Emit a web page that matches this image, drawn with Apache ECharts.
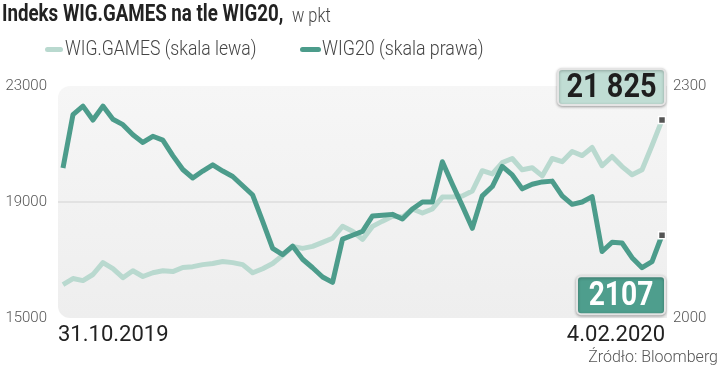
<!DOCTYPE html>
<html>
<head>
<meta charset="utf-8">
<script src="https://cdn.jsdelivr.net/npm/echarts@6/dist/echarts.min.js"></script>
<style>
html,body{margin:0;padding:0;background:#fff;}
#c{width:720px;height:372px;}
</style>
</head>
<body>
<div id="c"></div>
<script>
// Trading days 31.10.2019 - 4.02.2020
const dates = [
 '31.10.2019',
 '4.11.2019','5.11.2019','6.11.2019','7.11.2019','8.11.2019',
 '12.11.2019','13.11.2019','14.11.2019','15.11.2019',
 '18.11.2019','19.11.2019','20.11.2019','21.11.2019','22.11.2019',
 '25.11.2019','26.11.2019','27.11.2019','28.11.2019','29.11.2019',
 '2.12.2019','3.12.2019','4.12.2019','5.12.2019','6.12.2019',
 '9.12.2019','10.12.2019','11.12.2019','12.12.2019','13.12.2019',
 '16.12.2019','17.12.2019','18.12.2019','19.12.2019','20.12.2019',
 '23.12.2019','27.12.2019','30.12.2019',
 '2.01.2020','3.01.2020',
 '7.01.2020','8.01.2020','9.01.2020','10.01.2020',
 '13.01.2020','14.01.2020','15.01.2020','16.01.2020','17.01.2020',
 '20.01.2020','21.01.2020','22.01.2020','23.01.2020','24.01.2020',
 '27.01.2020','28.01.2020','29.01.2020','30.01.2020','31.01.2020',
 '3.02.2020','4.02.2020'
];
const tickLabels = ['31.10.2019', '4.02.2020'];

const wigGames = [
 16150,16360,16290,16500,16910,16700,16390,16630,16430,16560,
 16630,16600,16740,16770,16840,16880,16950,16910,16840,16560,
 16700,16880,17160,17470,17400,17470,17610,17750,18160,17990,
 17710,18160,18340,18510,18480,18760,18620,18760,19170,19170,
 19210,19380,20080,19970,20360,20500,20110,20180,19900,20500,
 20390,20740,20600,20880,20250,20570,20220,19940,20110,20950,
 21825
];
const wig20 = [
 2194,2263,2274,2256,2274,2257,2250,2237,2227,2235,
 2230,2210,2192,2181,2190,2198,2190,2183,2171,2159,
 2125,2090,2082,2093,2076,2065,2053,2046,2102,2107,
 2112,2132,2133,2134,2128,2141,2150,2150,2202,2173,
 2145,2116,2158,2170,2196,2185,2167,2173,2176,2177,
 2158,2147,2150,2157,2086,2098,2097,2078,2065,2073,
 2107
];
const leftTicks = [15000, 19000, 23000];
const rightTicks = [2000, 2300];
const seriesNames = ['WIG.GAMES (skala lewa)', 'WIG20 (skala prawa)'];

const DARK = '#4c9c8b';
const LIGHT = '#b9d9cf';
const FONT = 'Roboto, sans-serif';

function fmtThousands(v){
  const s = String(v);
  return s.length > 4 ? s.slice(0, s.length-3) + ' ' + s.slice(-3) : s;
}

function buildData(arr){
  return arr.map((v, i) => {
    if (i !== arr.length - 1) return v;
    return {
      value: v,
      symbol: 'rect',
      symbolSize: 7,
      itemStyle: {color: '#555', borderColor: '#fff', borderWidth: 1.5}
    };
  });
}

const staticGraphics = [
  {
    type: 'rect', z: -10, silent: true,
    shape: {x: 58, y: 86, width: 609, height: 232, r: [12, 0, 0, 12]},
    style: {fill: new echarts.graphic.LinearGradient(0, 0, 0, 1, [
      {offset: 0, color: '#f6f6f6'}, {offset: 1, color: '#eeeeee'}])}
  },
  // title
  {type: 'text', x: 2, y: 3, scaleX: 0.78, style: {text: 'Indeks WIG.GAMES na tle WIG20,', font: 'bold 24px ' + FONT, fill: '#222', textVerticalAlign: 'top'}},
  {type: 'text', x: 292, y: 6, scaleX: 0.78, style: {text: 'w pkt', font: '300 21px ' + FONT, fill: '#444', textVerticalAlign: 'top'}},
  // legend
  {type: 'rect', shape: {x: 45, y: 47, width: 18, height: 5, r: 2.5}, style: {fill: LIGHT}},
  {type: 'text', x: 65, y: 50, scaleX: 0.88, style: {text: seriesNames[0], font: '300 20px ' + FONT, fill: '#444', textVerticalAlign: 'middle'}},
  {type: 'rect', shape: {x: 300, y: 47, width: 21, height: 5, r: 2.5}, style: {fill: DARK}},
  {type: 'text', x: 322, y: 50, scaleX: 0.89, style: {text: seriesNames[1], font: '300 20px ' + FONT, fill: '#444', textVerticalAlign: 'middle'}},
  // source
  {type: 'text', x: 718, y: 358, style: {text: 'Źródło: Bloomberg', font: '300 16px ' + FONT, fill: '#555', textAlign: 'right', textVerticalAlign: 'middle'}}
];

const chart = echarts.init(document.getElementById('c'), null, {renderer: 'canvas'});
chart.setOption({
  animation: false,
  graphic: staticGraphics,
  grid: {left: 58, right: 53, top: 86, bottom: 54},
  xAxis: {
    type: 'category',
    data: dates,
    boundaryGap: true,
    axisLine: {show: false},
    axisTick: {show: false},
    axisLabel: {
      interval: (i) => i === 0 || i === dates.length - 1,
      formatter: (v, i) => (i === 0 ? '{a|' + tickLabels[0] + '}' : '{b|' + tickLabels[1] + '}'),
      alignMinLabel: 'left',
      alignMaxLabel: 'right',
      margin: 6,
      fontFamily: FONT,
      fontSize: 22,
      color: '#222',
      rich: {
        a: {fontFamily: FONT, fontSize: 22, color: '#222', padding: [0, 0, 0, -5]},
        b: {fontFamily: FONT, fontSize: 22, color: '#222', padding: [0, -3, 0, 0]}
      }
    }
  },
  yAxis: [
    {
      type: 'value', min: leftTicks[0], max: leftTicks[2], interval: 4000,
      position: 'left',
      axisLine: {show: false}, axisTick: {show: false},
      axisLabel: {margin: 11, fontFamily: FONT, fontWeight: 300, fontSize: 15, color: '#555',
        formatter: (v) => String(v)},
      splitLine: {show: true, lineStyle: {color: ['transparent', '#dcdcdc', 'transparent'], width: 1.5}}
    },
    {
      type: 'value', min: rightTicks[0], max: rightTicks[1], interval: 150,
      position: 'right',
      axisLine: {show: false}, axisTick: {show: false},
      splitLine: {show: false},
      axisLabel: {
        margin: 6, fontFamily: FONT, fontWeight: 300, fontSize: 15, color: '#555',
        formatter: (v) => (rightTicks.indexOf(v) >= 0 ? String(v) : '')
      }
    }
  ],
  series: [
    {
      name: seriesNames[0],
      type: 'line', yAxisIndex: 0, z: 2,
      showSymbol: true, showAllSymbol: true, symbolSize: 0,
      color: LIGHT,
      lineStyle: {color: LIGHT, width: 5, join: 'round'},
      data: buildData(wigGames)
    },
    {
      name: seriesNames[1],
      type: 'line', yAxisIndex: 1, z: 3,
      showSymbol: true, showAllSymbol: true, symbolSize: 0,
      color: DARK,
      lineStyle: {color: DARK, width: 5, join: 'round'},
      data: buildData(wig20)
    }
  ]
});

// value boxes anchored on the last data points (positions from the chart's own scales)
const last = dates.length - 1;
const p1 = chart.convertToPixel({seriesIndex: 0}, [last, wigGames[last]]);
const p2 = chart.convertToPixel({seriesIndex: 1}, [last, wig20[last]]);

function valueBox(p, rect, text, fill, color, sx){
  return {
    type: 'group', x: p[0], y: p[1], z: 20,
    children: [
      {type: 'rect', shape: {x: rect[0], y: rect[1], width: rect[2], height: rect[3], r: 4},
       style: {fill: fill, stroke: '#e4e4e4', lineWidth: 2, shadowBlur: 3, shadowColor: 'rgba(0,0,0,0.3)', shadowOffsetY: 1}},
      {type: 'text', x: rect[0] + rect[2] / 2, y: rect[1] + rect[3] / 2 + 1, scaleX: sx,
       style: {text: text, font: 'bold 34px ' + FONT, fill: color, textAlign: 'center', textVerticalAlign: 'middle'}}
    ]
  };
}

chart.setOption({
  graphic: staticGraphics.concat([
    valueBox(p1, [-104, -51, 107, 36], fmtThousands(wigGames[last]), '#c0ddd4', '#1e1e1e', 0.85),
    valueBox(p2, [-85, 41, 88, 38], String(wig20[last]), '#4e9e8d', '#ffffff', 0.83)
  ])
});
</script>
</body>
</html>
